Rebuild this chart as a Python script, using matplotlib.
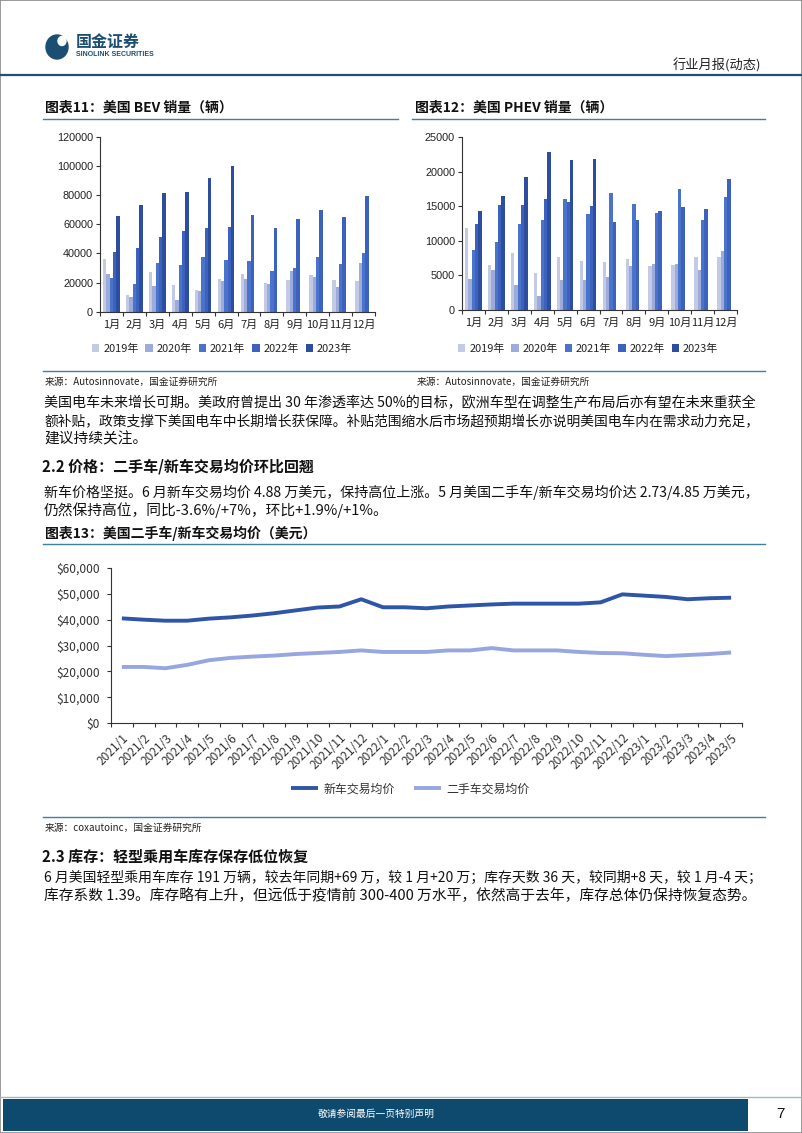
import matplotlib
matplotlib.use('Agg')
import matplotlib.pyplot as plt
import numpy as np
from matplotlib.patches import Rectangle, Patch, Ellipse
from matplotlib.lines import Line2D

W, H = 802, 1133
CJK = ['Noto Sans CJK SC', 'DejaVu Sans']
ARIAL = ['Liberation Sans', 'DejaVu Sans']
plt.rcParams['font.family'] = CJK
plt.rcParams['axes.unicode_minus'] = False

# ---------------- data ----------------
months = ['1月', '2月', '3月', '4月', '5月', '6月', '7月', '8月', '9月', '10月', '11月', '12月']
years = ['2019年', '2020年', '2021年', '2022年', '2023年']
nan = np.nan

bev_2019 = [36000, 11200, 27000, 18000, 14600, 22600, 25600, 19900, 21500, 24900, 21500, 20800]
bev_2020 = [25600, 10000, 17400, 7800, 14000, 21000, 22200, 18700, 27700, 23800, 16900, 33400]
bev_2021 = [23000, 18700, 33400, 31800, 37500, 35700, 34700, 27700, 29900, 37500, 32700, 40200]
bev_2022 = [41000, 43700, 51200, 55300, 57600, 58000, 66500, 57400, 63300, 70000, 65100, 79600]
bev_2023 = [65800, 73400, 81600, 82300, 91400, 100200, nan, nan, nan, nan, nan, nan]

phev_2019 = [11900, 6500, 8300, 5400, 7600, 7100, 6900, 7400, 6300, 6500, 7700, 7600]
phev_2020 = [4500, 5800, 3600, 2000, 4300, 4300, 4800, 6400, 6700, 6700, 5800, 8600]
phev_2021 = [8700, 9900, 12500, 13100, 16000, 13900, 16900, 15300, 14100, 17500, 13100, 16400]
phev_2022 = [12400, 15250, 15250, 16000, 15700, 15000, 12800, 13100, 14400, 14900, 14600, 18900]
phev_2023 = [14400, 16500, 19200, 22900, 21700, 21900, nan, nan, nan, nan, nan, nan]

price_months = ['2021/1', '2021/2', '2021/3', '2021/4', '2021/5', '2021/6', '2021/7', '2021/8',
                '2021/9', '2021/10', '2021/11', '2021/12', '2022/1', '2022/2', '2022/3', '2022/4',
                '2022/5', '2022/6', '2022/7', '2022/8', '2022/9', '2022/10', '2022/11', '2022/12',
                '2023/1', '2023/2', '2023/3', '2023/4', '2023/5']
new_car = [40500, 40000, 39600, 39600, 40400, 40900, 41600, 42500, 43600, 44700, 45100, 47900,
           44800, 44800, 44400, 45100, 45500, 45900, 46200, 46200, 46200, 46200, 46700, 49800,
           49300, 48800, 47900, 48300, 48500]
used_car = [21700, 21700, 21200, 22500, 24300, 25200, 25700, 26100, 26700, 27100, 27500, 28100,
            27500, 27500, 27500, 28100, 28100, 29000, 28100, 28100, 28100, 27500, 27100, 27000,
            26400, 25900, 26300, 26700, 27300]
line_labels = ['新车交易均价', '二手车交易均价']

bar_colors = ['#c3cae6', '#9dabdb', '#4a74cc', '#3c62bd', '#2d4d9f']
new_color = '#2f55a7'
used_color = '#97a6de'

# ---------------- helpers ----------------
fig = plt.figure(figsize=(W / 100, H / 100), dpi=100)
renderer = fig.canvas.get_renderer()


def fx(x):
    return x / W


def fy(y):
    return 1 - y / H


def text(x, y, s, **kw):
    kw.setdefault('va', 'center')
    return fig.text(fx(x), fy(y), s, **kw)


def hline(x0, x1, y, color, lw):
    fig.add_artist(Line2D([fx(x0), fx(x1)], [fy(y), fy(y)], color=color, lw=lw))


def add_axes(x0, y0, x1, y1):
    return fig.add_axes([fx(x0), fy(y1), (x1 - x0) / W, (y1 - y0) / H])


def justified(x, y, s, width, size=10.5, **kw):
    t = text(x, y, s, fontsize=size, **kw)
    w = t.get_window_extent(renderer).width
    if w > 0:
        t.set_fontsize(size * width / w)
    return t


# ---------------- page frame ----------------
fig.add_artist(Rectangle((0, 0), 1, 1, transform=fig.transFigure, fill=False,
                         edgecolor='#8a8a8a', lw=1.2))

# header logo
fig.add_artist(Ellipse((fx(57), fy(47)), 22 / W, 24 / H, transform=fig.transFigure,
                       color='#1b4f72'))
fig.add_artist(Ellipse((fx(62), fy(41)), 8 / W, 9 / H, transform=fig.transFigure,
                       color='white'))
text(76, 42, '国金证券', fontsize=11.5, fontweight='bold', color='#1b4f72')
text(76, 54.5, 'SINOLINK SECURITIES', fontsize=5, fontweight='bold', color='#1b4f72',
     family=ARIAL)
text(761, 65, '行业月报(动态)', fontsize=9.5, ha='right', color='#222222')
hline(0, 802, 75, '#1f4f73', 1.6)

# ---------------- chart titles ----------------
title_color = '#111111'
line_col = '#3f7f9f'
text(45, 108, '图表11：美国 BEV 销量（辆）', fontsize=10, fontweight='bold', color=title_color)
text(415, 108, '图表12：美国 PHEV 销量（辆）', fontsize=10, fontweight='bold', color=title_color)
hline(43, 398, 119, line_col, 1.0)
hline(412, 765, 119, line_col, 1.0)


def bar_chart(rect, series, ymax, step, legend_x):
    ax = add_axes(*rect)
    x = np.arange(12)
    w = 0.145
    for i, vals in enumerate(series):
        ax.bar(x + (i - 2) * w, vals, w, color=bar_colors[i], linewidth=0)
    ax.set_xlim(-0.5, 11.5)
    ax.set_ylim(0, ymax)
    ax.set_yticks(np.arange(0, ymax + 1, step))
    ax.set_yticklabels([str(int(v)) for v in np.arange(0, ymax + 1, step)],
                       family=ARIAL, fontsize=7.8, color='#222222')
    ax.set_xticks(np.arange(-0.5, 12, 1))
    ax.set_xticklabels([])
    ax.set_xticks(x, minor=True)
    ax.set_xticklabels(months, minor=True, fontsize=8, color='#222222')
    ax.tick_params(axis='x', which='major', length=3, width=0.8, color='#333333')
    ax.tick_params(axis='x', which='minor', length=0, pad=6)
    ax.tick_params(axis='y', length=3, width=0.8, color='#333333', pad=2)
    for s in ['top', 'right']:
        ax.spines[s].set_visible(False)
    for s in ['left', 'bottom']:
        ax.spines[s].set_color('#333333')
        ax.spines[s].set_linewidth(0.8)
    handles = [Patch(facecolor=c, edgecolor='none') for c in bar_colors]
    fig.legend(handles, years, loc='center', bbox_to_anchor=(fx(legend_x), fy(349)),
               ncol=5, frameon=False, fontsize=7.9, handlelength=0.7, handleheight=0.7,
               handletextpad=0.35, columnspacing=0.6, borderpad=0, labelcolor='#222222')
    return ax


bar_chart((100, 136.7, 375, 311.7), [bev_2019, bev_2020, bev_2021, bev_2022, bev_2023],
          120000, 20000, 222)
bar_chart((462, 137.3, 737, 310), [phev_2019, phev_2020, phev_2021, phev_2022, phev_2023],
          25000, 5000, 588)

hline(43, 765, 371, line_col, 1.0)
text(45, 382, '来源：Autosinnovate，国金证券研究所', fontsize=7, color='#222222')
text(417, 382, '来源：Autosinnovate，国金证券研究所', fontsize=7, color='#222222')

# ---------------- text block 1 ----------------
body_col = '#111111'
justified(44, 403, '美国电车未来增长可期。美政府曾提出 30 年渗透率达 50%的目标，欧洲车型在调整生产布局后亦有望在未来重获全',
          716, color=body_col)
justified(44, 421, '额补贴，政策支撑下美国电车中长期增长获保障。补贴范围缩水后市场超预期增长亦说明美国电车内在需求动力充足，',
          718, color=body_col)
text(44, 439, '建议持续关注。', fontsize=10.6, color=body_col)

text(42, 467, '2.2 价格：二手车/新车交易均价环比回翘', fontsize=10.8, fontweight='bold', color=body_col)
justified(44, 492, '新车价格坚挺。6 月新车交易均价 4.88 万美元，保持高位上涨。5 月美国二手车/新车交易均价达 2.73/4.85 万美元，',
          718, color=body_col)
text(44, 510, '仍然保持高位，同比-3.6%/+7%，环比+1.9%/+1%。', fontsize=10.6, color=body_col)

# ---------------- line chart ----------------
text(45, 533, '图表13：美国二手车/新车交易均价（美元）', fontsize=10, fontweight='bold', color=title_color)
hline(43, 765, 544, line_col, 1.0)

ax3 = add_axes(111, 568, 742, 723)
xi = np.arange(len(price_months))
ax3.plot(xi, new_car, color=new_color, lw=2.8, label=line_labels[0], solid_capstyle='butt')
ax3.plot(xi, used_car, color=used_color, lw=2.8, label=line_labels[1], solid_capstyle='butt')
ax3.set_xlim(-0.5, len(price_months) - 0.5)
ax3.set_ylim(0, 60000)
yt = np.arange(0, 60001, 10000)
ax3.set_yticks(yt)
ax3.set_yticklabels(['$' + format(int(v), ',') for v in yt], fontsize=8.6, color='#333333')
ax3.set_xticks(np.arange(-0.5, len(price_months), 1))
ax3.set_xticklabels([])
ax3.set_xticks(xi, minor=True)
ax3.set_xticklabels(price_months, minor=True, rotation=45, ha='right', rotation_mode='anchor',
                    fontsize=8.6, color='#333333')
ax3.tick_params(axis='x', which='major', length=3, width=0.8, color='#333333')
ax3.tick_params(axis='x', which='minor', length=0, pad=6)
ax3.tick_params(axis='y', length=3, width=0.8, color='#333333', pad=5)
for s in ['top', 'right']:
    ax3.spines[s].set_visible(False)
for s in ['left', 'bottom']:
    ax3.spines[s].set_color('#333333')
    ax3.spines[s].set_linewidth(0.8)
fig.legend(*ax3.get_legend_handles_labels(), loc='center', bbox_to_anchor=(fx(410), fy(789)),
           ncol=2, frameon=False, fontsize=8.6, handlelength=2.3, handletextpad=0.4,
           columnspacing=1.6, borderpad=0, labelcolor='#333333')

hline(43, 765, 817, line_col, 1.0)
text(45, 828, '来源：coxautoinc，国金证券研究所', fontsize=7, color='#222222')

# ---------------- text block 2 ----------------
text(42, 857, '2.3 库存：轻型乘用车库存保存低位恢复', fontsize=10.8, fontweight='bold', color=body_col)
justified(44, 878, '6 月美国轻型乘用车库存 191 万辆，较去年同期+69 万，较 1 月+20 万；库存天数 36 天，较同期+8 天，较 1 月-4 天；',
          718, color=body_col)
text(44, 896, '库存系数 1.39。库存略有上升，但远低于疫情前 300-400 万水平，依然高于去年，库存总体仍保持恢复态势。',
     fontsize=10.6, color=body_col)

# ---------------- footer ----------------
hline(0, 802, 1097, '#9fb8c8', 1.0)
fig.add_artist(Rectangle((fx(3), fy(1131)), (748 - 3) / W, (1131 - 1098.5) / H,
                         transform=fig.transFigure, color='#0e4a6e', lw=0))
text(376, 1114, '敬请参阅最后一页特别声明', fontsize=7, color='white', ha='center')
text(780, 1114, '7', fontsize=11, color='#111111', ha='center', family=ARIAL)

fig.savefig('out.png', dpi=100)
